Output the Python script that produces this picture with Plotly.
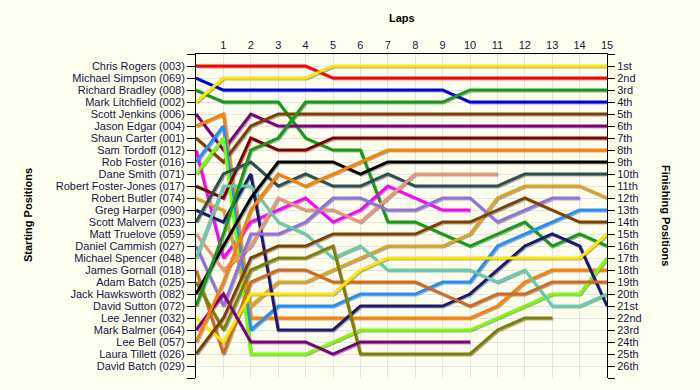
import plotly.graph_objects as go

laps = list(range(16))
lap_labels = [""] + [str(i) for i in range(1, 16)]

drivers = [
    "Chris Rogers (003)", "Michael Simpson (069)", "Richard Bradley (008)",
    "Mark Litchfield (002)", "Scott Jenkins (006)", "Jason Edgar (004)",
    "Shaun Carter (001)", "Sam Tordoff (012)", "Rob Foster (016)",
    "Dane Smith (071)", "Robert Foster-Jones (017)", "Robert Butler (074)",
    "Greg Harper (090)", "Scott Malvern (023)", "Matt Truelove (059)",
    "Daniel Cammish (027)", "Michael Spencer (048)", "James Gornall (018)",
    "Adam Batch (025)", "Jack Hawksworth (082)", "David Sutton (072)",
    "Lee Jenner (032)", "Mark Balmer (064)", "Lee Bell (057)",
    "Laura Tillett (026)", "David Batch (029)",
]

finish_labels = [
    "1st", "2nd", "3rd", "4th", "5th", "6th", "7th", "8th", "9th", "10th",
    "11th", "12th", "13th", "14th", "15th", "16th", "17th", "18th", "19th",
    "20th", "21st", "22nd", "23rd", "24th", "25th", "26th",
]

# race position at each lap (lap 0 = grid)
rogers = [1, 1, 1, 1, 1, 2, 2, 2, 2, 2, 2, 2, 2, 2, 2, 2]
simpson = [2, 3, 3, 3, 3, 3, 3, 3, 3, 3, 4, 4, 4, 4, 4, 4]
bradley = [3, 4, 4, 4, 7, 8, 8, 14, 14, 15, 16, 15, 14, 16, 15, 16]
litchfield = [4, 2, 2, 2, 2, 1, 1, 1, 1, 1, 1, 1, 1, 1, 1, 1]
jenkins = [5, 8, 5, 6, 6, 6, 6, 6, 6, 6, 6, 6, 6, 6, 6, 6]
edgar = [6, 5, 22, 22, 22, 22, 22, 22, 22, 22, 22, 21, 19, 18, 18, 18]
carter = [7, 9, 6, 5, 5, 5, 5, 5, 5, 5, 5, 5, 5, 5, 5, 5]
tordoff = [8, 17, 14, 13, 12, 14, 13, 11, 12, 13, 13]
foster = [9, 6, 23, 21, 21, 21, 20, 20, 20, 19, 19, 16, 15, 14, 13, 13]
smith = [10, 7, 25, 25, 25, 24, 23, 23, 23, 23, 23, 22, 21, 20, 20, 17]
foster_jones = [11, 12, 7, 8, 8, 7, 7, 7, 7, 7, 7, 7, 7, 7, 7, 7]
butler = [12, 13, 21, 19, 19, 18, 17, 16, 16, 16, 15, 12, 11, 11, 11, 12]
harper = [13, 14, 10, 23, 23, 23, 21, 21, 21, 21, 20, 18, 16, 15, 16, 21]
malvern = [14, 10, 9, 11, 10, 11, 11, 10, 11, 11, 11, 11, 10, 10, 10, 10]
truelove = [15, 18, 16, 12, 13, 13, 14, 12, 10, 10, 10, 10]
cammish = [16, 21, 15, 15, 14, 12, 12, 13, 13, 12, 12, 14, 13, 12, 12]
spencer = [17, 11, 11, 14, 15, 17, 16, 18, 18, 18, 18, 19, 18, 21, 21, 20]
gornall = [18, 25, 19, 18, 18, 19, 19, 19, 19, 20, 21, 20, 20, 19, 19, 19]
a_batch = [19, 23, 18, 17, 17, 16, 25, 25, 25, 25, 25, 23, 22, 22]
hawksworth = [20, 16, 12, 9, 9, 9, 10, 9, 9, 9, 9, 9, 9, 9, 9, 9]
sutton = [21, 15, 8, 7, 4, 4, 4, 4, 4, 4, 3, 3, 3, 3, 3, 3]
jenner = [22, 24, 20, 20, 20, 20, 18, 17, 17, 17, 17, 17, 17, 17, 17, 15]
balmer = [23, 20, 24, 24, 24, 25, 24, 24, 24, 24, 24]
bell = [24, 19, 13, 10, 11, 10, 9, 8, 8, 8, 8, 8, 8, 8, 8, 8]
tillett = [25, 22, 17, 16, 16, 15, 15, 15, 15, 14, 14, 13, 12, 13, 14, 14]
d_batch = [26]

positions = [
    rogers, simpson, bradley, litchfield, jenkins, edgar, carter, tordoff,
    foster, smith, foster_jones, butler, harper, malvern, truelove, cammish,
    spencer, gornall, a_batch, hawksworth, sutton, jenner, balmer, bell,
    tillett, d_batch,
]

colors = [
    "#FF0000", "#0000E6", "#129C12", "#FFE600", "#800080", "#FF8000",
    "#804000", "#FF00FF", "#1E90FF", "#7CFC00", "#800000", "#DAA520",
    "#1A1A70", "#2F4F4F", "#E9967A", "#9370DB", "#66CDAA", "#D2691E",
    "#808000", "#000000", "#129C12", "#FFE600", "#800080", "#FF8000",
    "#804000", "#FF8000",
]

FONT = "Liberation Sans, Arial, sans-serif"
TXT = "#141446"
BG = "#FFFFF0"

fig = go.Figure()

# soft drop shadows under each line
for name, pos in zip(drivers, positions):
    if len(pos) < 2:
        continue
    fig.add_trace(go.Scatter(
        x=[l + 0.04 for l in laps[:len(pos)]],
        y=[p + 0.09 for p in pos],
        mode="lines", line=dict(color="rgba(90,90,90,0.5)", width=3),
        hoverinfo="skip", showlegend=False,
    ))

for name, pos, col in zip(drivers, positions, colors):
    fig.add_trace(go.Scatter(
        x=laps[:len(pos)], y=pos, mode="lines", name=name,
        line=dict(color=col, width=3), showlegend=False,
    ))

# carrier for the right-hand axis
fig.add_trace(go.Scatter(x=[0], y=[0], yaxis="y2", mode="markers",
                         marker=dict(opacity=0), hoverinfo="skip",
                         showlegend=False))

ticks_y = list(range(0, 28))

fig.update_layout(
    width=700, height=390,
    margin=dict(l=196, r=93, t=54, b=12, pad=0),
    paper_bgcolor=BG, plot_bgcolor=BG,
    font=dict(family=FONT, size=11, color=TXT),
    xaxis=dict(
        range=[0, 15], side="top", tickmode="array", tickvals=laps,
        ticktext=lap_labels, showgrid=True, gridcolor="#E4E4E4",
        gridwidth=1, showline=True, linecolor="black", linewidth=1,
        zeroline=False, ticks="", tickfont=dict(size=11, color=TXT),
        automargin=False,
    ),
    yaxis=dict(
        range=[27, 0], tickmode="array", tickvals=ticks_y,
        ticktext=[""] + drivers + [""], showgrid=True, gridcolor="#E4E4E4",
        showline=True, linecolor="black", linewidth=1, zeroline=False,
        ticks="outside", ticklen=8, tickcolor="black",
        tickfont=dict(size=11, color=TXT), automargin=False,
    ),
    yaxis2=dict(
        range=[27, 0], overlaying="y", side="right", tickmode="array",
        tickvals=ticks_y, ticktext=[""] + finish_labels + [""],
        showgrid=False, showline=True, linecolor="black", linewidth=1,
        zeroline=False, ticks="outside", ticklen=7, tickcolor="black",
        tickfont=dict(size=11, color=TXT), automargin=False,
    ),
    annotations=[
        dict(text="<b>Laps</b>", xref="paper", yref="paper",
             x=(402 - 196) / 411, y=(378 - 18) / 324, showarrow=False,
             xanchor="center", yanchor="middle",
             font=dict(size=11, color="black", family=FONT)),
        dict(text="<b>Starting Positions</b>", xref="paper", yref="paper",
             x=(28 - 196) / 411, y=(378 - 215) / 324, showarrow=False,
             xanchor="center", yanchor="middle",
             textangle=-90, font=dict(size=11, color="black", family=FONT)),
        dict(text="<b>Finishing Positions</b>", xref="paper", yref="paper",
             x=(666 - 196) / 411, y=(378 - 215) / 324, showarrow=False,
             xanchor="center", yanchor="middle",
             textangle=90, font=dict(size=11, color="black", family=FONT)),
    ],
)

fig.write_html(
    "out.html",
    config={"displayModeBar": False},
    post_script=(
        "document.body.style.margin='0px';"
        "document.body.style.padding='0px';"
        "document.body.style.background='" + BG + "';"
        "document.body.style.overflow='hidden';"
    ),
)
